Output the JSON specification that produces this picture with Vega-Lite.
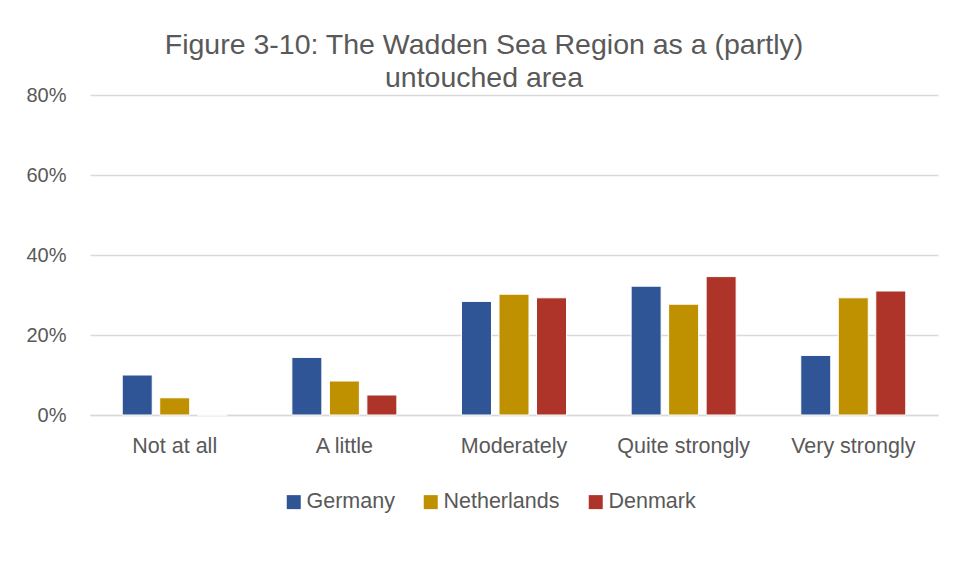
{
  "$schema": "https://vega.github.io/schema/vega-lite/v6.json",
  "width": 848,
  "height": 320,
  "autosize": {"type": "none"},
  "padding": {"left": 90, "top": 95, "right": 17, "bottom": 164},
  "background": "white",
  "title": {
    "text": ["Figure 3-10: The Wadden Sea Region as a (partly)", "untouched area"],
    "font": "Liberation Sans",
    "fontSize": 28.5,
    "fontWeight": "normal",
    "color": "#595959",
    "lineHeight": 33,
    "anchor": "middle",
    "dx": -30,
    "offset": -7
  },
  "data": {
    "values": [
      {"category": "Not at all", "country": "Germany", "value": 0.100},
      {"category": "Not at all", "country": "Netherlands", "value": 0.043},
      {"category": "Not at all", "country": "Denmark", "value": 0.0},
      {"category": "A little", "country": "Germany", "value": 0.144},
      {"category": "A little", "country": "Netherlands", "value": 0.085},
      {"category": "A little", "country": "Denmark", "value": 0.050},
      {"category": "Moderately", "country": "Germany", "value": 0.284},
      {"category": "Moderately", "country": "Netherlands", "value": 0.302},
      {"category": "Moderately", "country": "Denmark", "value": 0.293},
      {"category": "Quite strongly", "country": "Germany", "value": 0.322},
      {"category": "Quite strongly", "country": "Netherlands", "value": 0.277},
      {"category": "Quite strongly", "country": "Denmark", "value": 0.346},
      {"category": "Very strongly", "country": "Germany", "value": 0.149},
      {"category": "Very strongly", "country": "Netherlands", "value": 0.293},
      {"category": "Very strongly", "country": "Denmark", "value": 0.310}
    ]
  },
  "mark": {"type": "bar", "stroke": "white", "strokeWidth": 1},
  "encoding": {
    "x": {
      "field": "category",
      "type": "nominal",
      "sort": ["Not at all", "A little", "Moderately", "Quite strongly", "Very strongly"],
      "scale": {"paddingInner": 0.381, "paddingOuter": 0.19},
      "axis": {
        "title": null,
        "labelAngle": 0,
        "labelFont": "Liberation Sans",
        "labelFontSize": 21.5,
        "labelColor": "#595959",
        "labelPadding": 20,
        "ticks": false,
        "domainColor": "#D9D9D9",
        "domainWidth": 1.5
      }
    },
    "xOffset": {
      "field": "country",
      "sort": ["Germany", "Netherlands", "Denmark"],
      "scale": {"paddingInner": 0.2, "paddingOuter": 0}
    },
    "y": {
      "field": "value",
      "type": "quantitative",
      "scale": {"domain": [0, 0.8]},
      "axis": {
        "title": null,
        "values": [0, 0.2, 0.4, 0.6, 0.8],
        "format": ".0%",
        "labelFont": "Liberation Sans",
        "labelFontSize": 20,
        "labelColor": "#595959",
        "labelPadding": 24,
        "ticks": false,
        "domain": false,
        "gridColor": "#D9D9D9",
        "gridWidth": 1.5
      }
    },
    "color": {
      "field": "country",
      "type": "nominal",
      "sort": ["Germany", "Netherlands", "Denmark"],
      "scale": {"domain": ["Germany", "Netherlands", "Denmark"], "range": ["#2F5597", "#BF9000", "#AE3328"]},
      "legend": {
        "title": null,
        "orient": "none",
        "direction": "horizontal",
        "legendX": 193,
        "legendY": 396,
        "symbolType": "square",
        "symbolSize": 196,
        "symbolStrokeWidth": 0,
        "labelFont": "Liberation Sans",
        "labelFontSize": 21.5,
        "labelColor": "#595959",
        "labelOffset": 2,
        "columnPadding": 25
      }
    }
  },
  "config": {
    "view": {"stroke": null}
  }
}
